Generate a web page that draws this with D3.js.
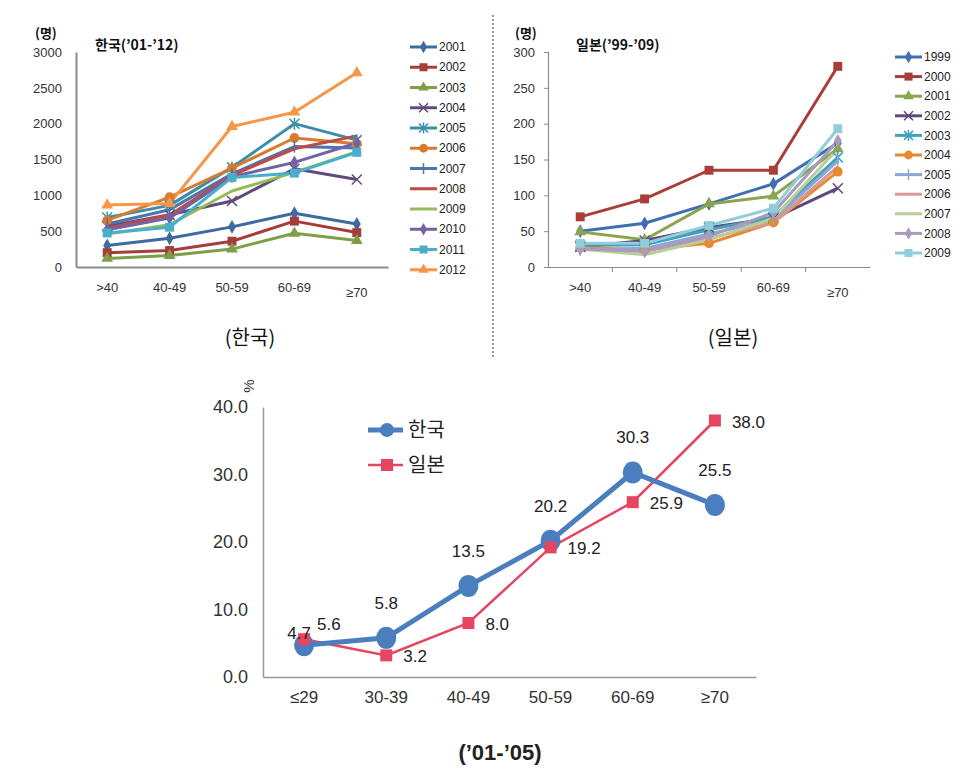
<!DOCTYPE html>
<html><head><meta charset="utf-8">
<script src="https://cdn.jsdelivr.net/npm/d3@7"></script>
<style>body{margin:0;background:#fff}svg{display:block}</style>
</head><body><svg id="c" width="962" height="781" font-family="'Noto Sans CJK KR','Open Sans',sans-serif"></svg>
<script>
// ---------- DATA ----------
const topCats = [">40", "40-49", "50-59", "60-69", "≥70"];
const krYears = ["2001","2002","2003","2004","2005","2006","2007","2008","2009","2010","2011","2012"];
const kr2001 = [300, 400, 560, 750, 600];
const kr2002 = [200, 230, 360, 640, 480];
const kr2003 = [120, 160, 250, 470, 370];
const kr2004 = [570, 730, 920, 1370, 1220];
const kr2005 = [690, 860, 1390, 2000, 1770];
const kr2006 = [650, 975, 1380, 1800, 1720];
const kr2007 = [600, 800, 1300, 1680, 1660];
const kr2008 = [540, 725, 1280, 1650, 1830];
const kr2009 = [460, 590, 1060, 1320, 1610];
const kr2010 = [520, 685, 1260, 1460, 1730];
const kr2011 = [475, 555, 1250, 1310, 1600];
const kr2012 = [865, 885, 1960, 2160, 2710];
const krSeries = [kr2001,kr2002,kr2003,kr2004,kr2005,kr2006,kr2007,kr2008,kr2009,kr2010,kr2011,kr2012];
const krTicks = [0, 500, 1000, 1500, 2000, 2500, 3000];

const jpYears = ["1999","2000","2001","2002","2003","2004","2005","2006","2007","2008","2009"];
const jp1999 = [50, 61, 88, 116, 173];
const jp2000 = [70, 95, 135, 135, 280];
const jp2001 = [49, 38, 88, 99, 165];
const jp2002 = [28, 37, 55, 68, 110];
const jp2003 = [30, 31, 52, 70, 153];
const jp2004 = [27, 24, 33, 62, 133];
const jp2005 = [24, 26, 46, 66, 148];
const jp2006 = [26, 22, 40, 62, 140];
const jp2007 = [25, 17, 38, 68, 165];
const jp2008 = [25, 22, 43, 76, 176];
const jp2009 = [33, 33, 58, 82, 193];
const jpSeries = [jp1999,jp2000,jp2001,jp2002,jp2003,jp2004,jp2005,jp2006,jp2007,jp2008,jp2009];
const jpTicks = [0, 50, 100, 150, 200, 250, 300];

const botCats = ["≤29", "30-39", "40-49", "50-59", "60-69", "≥70"];
const botKorea = [4.7, 5.8, 13.5, 20.2, 30.3, 25.5];
const botJapan = [5.6, 3.2, 8.0, 19.2, 25.9, 38.0];
const botTicks = [0, 10, 20, 30, 40];

// ---------- STYLES ----------
const krColors = ["#3e6aa0","#a33e3a","#7f9e48","#5f4b80","#3c8ea8","#d77b30","#4b76ab","#bd4b47","#98bb57","#7462a2","#47afcb","#f79646"];
const krMarks  = ["diamond","square","triangle","x","star","circle","plus","none","none","diamond","square","triangle"];
const jpColors = ["#3f6fae","#a83d3a","#89a54e","#5c4a7d","#3fa3b8","#e8892f","#8ea6d6","#d99795","#b9cd96","#a99bbd","#92cddc"];
const jpMarks  = ["diamond","square","triangle","x","star","circle","plus","none","none","diamond","square"];
const NUM = "'Liberation Sans', Arial, sans-serif";

const svg = d3.select("#c");
svg.append("rect").attr("width",962).attr("height",781).attr("fill","#fff");

function marker(g, type, x, y, s, color) {
  if (type === "none") return;
  if (type === "x" || type === "star" || type === "plus") {
    let d = "";
    if (type !== "plus") d += `M${x-s/2},${y-s/2}L${x+s/2},${y+s/2}M${x-s/2},${y+s/2}L${x+s/2},${y-s/2}`;
    if (type !== "x") d += `M${x},${y-s/2-1}L${x},${y+s/2+1}`;
    g.append("path").attr("d", d).attr("stroke", color).attr("stroke-width", 1.5).attr("fill","none");
    return;
  }
  const sym = {diamond: d3.symbolDiamond, square: d3.symbolSquare, triangle: d3.symbolTriangle, circle: d3.symbolCircle}[type];
  const area = {diamond: s*s*0.55, square: s*s*0.8, triangle: s*s*0.6, circle: s*s*0.75}[type];
  g.append("path").attr("d", d3.symbol(sym, area)()).attr("transform", `translate(${x},${y})`).attr("fill", color);
}

function smallChart(o) {
  const g = svg.append("g");
  const x = d3.scaleBand().domain(topCats).range([o.x0, o.x1]);
  const y = d3.scaleLinear().domain([0, o.max]).range([267, 52]);
  const ya = g.append("g").attr("transform", `translate(${o.x0},0)`)
    .call(d3.axisLeft(y).tickValues(o.ticks).tickFormat(d3.format("d")).tickSize(o.ticked ? 4 : 0).tickPadding(o.ticked ? 9 : 14));
  ya.select(".domain").attr("stroke", "#8c8c8c").attr("stroke-width", o.ticked ? 1.2 : 2);
  ya.selectAll(".tick line").attr("stroke", "#8c8c8c");
  ya.selectAll("text").attr("font-size", 13).attr("fill", "#333").style("font-family", NUM);
  const xa = g.append("g").attr("transform", "translate(0,267)").call(d3.axisBottom(x).tickSize(0).tickPadding(16));
  xa.select(".domain").attr("stroke", "#8c8c8c").attr("stroke-width", o.ticked ? 1.2 : 2);
  xa.selectAll("text").attr("font-size", 13).attr("fill", "#333").style("font-family", NUM);
  xa.selectAll(".tick").filter(d => d === "≥70").select("text").attr("dy", "1.05em");
  if (o.ticked) {
    for (let i = 1; i < topCats.length; i++) {
      const bx = o.x0 + x.step() * i;
      g.append("line").attr("x1", bx).attr("x2", bx).attr("y1", 267).attr("y2", 272).attr("stroke", "#8c8c8c");
    }
  }
  const line = d3.line().x((d, i) => x(topCats[i]) + x.bandwidth() / 2).y(d => y(d));
  o.series.forEach((s, k) => {
    g.append("path").datum(s).attr("d", line).attr("fill", "none").attr("stroke", o.colors[k]).attr("stroke-width", 3).attr("stroke-linejoin","round");
  });
  o.series.forEach((s, k) => {
    s.forEach((v, i) => marker(g, o.marks[k], x(topCats[i]) + x.bandwidth() / 2, y(v), 10, o.colors[k]));
  });
  o.names.forEach((n, k) => {
    const ly = o.ly0 + k * o.lstep;
    g.append("line").attr("x1", o.lx).attr("x2", o.lx + 27).attr("y1", ly).attr("y2", ly).attr("stroke", o.colors[k]).attr("stroke-width", 3);
    marker(g, o.marks[k], o.lx + 13.5, ly, 9, o.colors[k]);
    g.append("text").attr("x", o.lx + 29).attr("y", ly).attr("dy", "0.35em").attr("font-size", 12).attr("fill", "#222").style("font-family", NUM).text(n);
  });
  g.append("text").attr("x", o.ux).attr("y", 38).attr("font-size", 13).attr("font-weight", "bold").attr("fill", "#111").text("(명)");
  g.append("text").attr("x", o.tx).attr("y", 50).attr("font-size", 14).attr("font-weight", "bold").attr("fill", "#111").text(o.title);
}

smallChart({x0: 76, x1: 388, max: 3000, ticks: krTicks, ticked: false, series: krSeries, colors: krColors, marks: krMarks,
  names: krYears, lx: 410, ly0: 47, lstep: 20.25, ux: 35, tx: 95, title: "한국(’01-’12)"});
smallChart({x0: 548, x1: 870, max: 300, ticks: jpTicks, ticked: true, series: jpSeries, colors: jpColors, marks: jpMarks,
  names: jpYears, lx: 895, ly0: 57, lstep: 19.6, ux: 515, tx: 576, title: "일본(’99-’09)"});

svg.append("line").attr("x1", 493).attr("x2", 493).attr("y1", 15).attr("y2", 357).attr("stroke", "#333").attr("stroke-dasharray", "2,2");
svg.append("text").attr("x", 250).attr("y", 345).attr("text-anchor", "middle").attr("font-size", 20).attr("fill", "#111").text("(한국)");
svg.append("text").attr("x", 733).attr("y", 345).attr("text-anchor", "middle").attr("font-size", 20).attr("fill", "#111").text("(일본)");

// ---------- bottom chart ----------
const bg = svg.append("g");
const bx = d3.scaleBand().domain(botCats).range([263, 756]);
const by = d3.scaleLinear().domain([0, 40]).range([677, 407]);
const bya = bg.append("g").attr("transform", "translate(263,0)").call(d3.axisLeft(by).tickValues(botTicks).tickFormat(d3.format(".1f")).tickSize(0).tickPadding(15));
bya.select(".domain").attr("stroke", "#999").attr("stroke-width", 1.5);
bya.selectAll("text").attr("font-size", 18).attr("fill", "#333").style("font-family", NUM);
const bxa = bg.append("g").attr("transform", "translate(0,677)").call(d3.axisBottom(bx).tickSize(0).tickPadding(14));
bxa.select(".domain").attr("stroke", "#999").attr("stroke-width", 1.5);
bxa.selectAll("text").attr("font-size", 17).attr("fill", "#333").style("font-family", NUM);
bg.append("text").attr("transform", "translate(254,386) rotate(-90)").attr("text-anchor", "middle").attr("font-size", 15).attr("fill", "#333").style("font-family", NUM).text("%");
const cx = (d, i) => bx(botCats[i]) + bx.bandwidth() / 2;
const bline = d3.line().x(cx).y(d => by(d));
const kColor = "#4a7ebf", jColor = "#e64561";
bg.append("path").datum(botJapan).attr("d", bline).attr("fill", "none").attr("stroke", jColor).attr("stroke-width", 2.5);
bg.append("path").datum(botKorea).attr("d", bline).attr("fill", "none").attr("stroke", kColor).attr("stroke-width", 5);
botKorea.forEach((v, i) => bg.append("ellipse").attr("cx", cx(v, i)).attr("cy", by(v)).attr("rx", 10).attr("ry", 11).attr("fill", kColor));
botJapan.forEach((v, i) => bg.append("rect").attr("x", cx(v, i) - 6).attr("y", by(v) - 6).attr("width", 12).attr("height", 12).attr("fill", jColor));
botKorea.forEach((v, i) => {
  const first = i === 0;
  bg.append("text").attr("x", cx(v, i) - (first ? 5 : 0)).attr("y", by(v) - (first ? 6 : 29)).attr("text-anchor", "middle")
    .attr("font-size", 17).attr("fill", "#222").style("font-family", NUM).text(v.toFixed(1));
});
botJapan.forEach((v, i) => {
  const first = i === 0;
  bg.append("text").attr("x", cx(v, i) + (first ? 13 : 17)).attr("y", by(v) + (first ? -9 : 7)).attr("text-anchor", "start")
    .attr("font-size", 17).attr("fill", "#222").style("font-family", NUM).text(v.toFixed(1));
});
bg.append("line").attr("x1", 368).attr("x2", 403).attr("y1", 430).attr("y2", 430).attr("stroke", kColor).attr("stroke-width", 5);
bg.append("circle").attr("cx", 387).attr("cy", 430).attr("r", 7).attr("fill", kColor);
bg.append("text").attr("x", 408).attr("y", 430).attr("dy", "0.35em").attr("font-size", 20).attr("fill", "#222").text("한국");
bg.append("line").attr("x1", 368).attr("x2", 403).attr("y1", 465).attr("y2", 465).attr("stroke", jColor).attr("stroke-width", 2.5);
bg.append("rect").attr("x", 381).attr("y", 459).attr("width", 12).attr("height", 12).attr("fill", jColor);
bg.append("text").attr("x", 408).attr("y", 465).attr("dy", "0.35em").attr("font-size", 20).attr("fill", "#222").text("일본");
bg.append("text").attr("x", 500).attr("y", 760).attr("text-anchor", "middle").attr("font-size", 22).attr("font-weight", "bold").attr("fill", "#222").style("font-family", NUM).text("(’01-’05)");
</script></body></html>
